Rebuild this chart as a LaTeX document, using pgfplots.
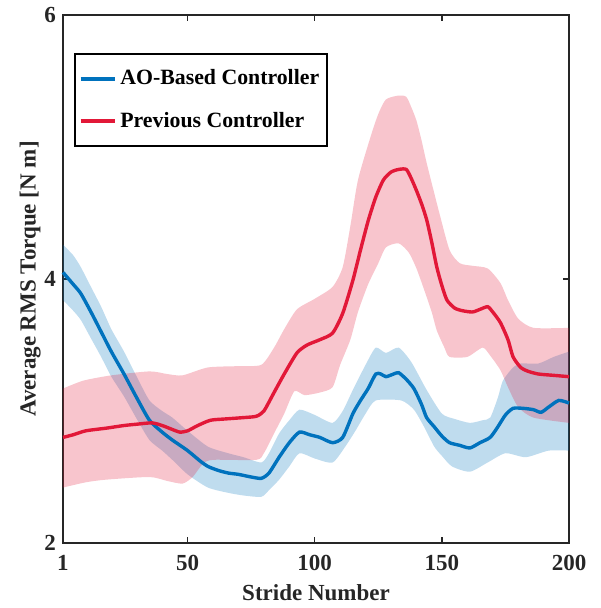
\documentclass[border=0pt]{standalone}
\usepackage{fontspec}
\setmainfont{Liberation Serif}
\usepackage{pgfplots}
\pgfplotsset{compat=1.18}
\usepgfplotslibrary{fillbetween}

\definecolor{aoblue}{RGB}{0,114,189}
\definecolor{prevred}{RGB}{226,24,56}
\definecolor{axgray}{RGB}{38,38,38}

\begin{document}
\begin{tikzpicture}
\begin{axis}[
  scale only axis,
  width=253pt, height=264pt,
  xmin=1, xmax=200, ymin=2, ymax=6,
  xtick={1,50,100,150,200},
  ytick={2,4,6},
  tick align=inside,
  major tick length=3pt,
  axis line style={axgray, line width=0.7pt},
  every tick/.style={axgray, line width=0.7pt},
  /pgf/number format/assume math mode=true,
  tick label style={font=\fontsize{11.5}{13}\selectfont\bfseries, text=axgray},
  xticklabel style={yshift=-2.5pt},
  label style={font=\fontsize{11.5}{13}\selectfont\bfseries, text=axgray},
  xlabel={Stride Number},
  ylabel={Average RMS Torque [N m]},
  ylabel style={yshift=-5pt},
  legend style={at={(0.0217,0.928)}, anchor=north west, draw=black, line width=0.8pt,
    font=\fontsize{10.9}{13}\selectfont\bfseries, inner xsep=2pt, inner ysep=6pt,
    row sep=8pt, cells={anchor=west}},
  legend image code/.code={\draw[#1, line width=1.8pt] (0pt,0pt) -- (17pt,0pt);},
  clip=false,
]
% bounding frame matching reference proportions
\path (rel axis cs:-0.1245,-0.1231) rectangle (rel axis cs:1.0632,1.0284);

% --- AO-Based Controller band ---
\addplot[draw=none, forget plot, smooth, tension=0.4, name path=bu] coordinates {
(1,4.26) (5,4.18) (8,4.09) (12,3.94) (16,3.79) (20,3.62) (25,3.45) (30,3.26)
(35,3.08) (40,3.00) (44,2.95) (50,2.85) (58,2.73) (66,2.68) (72,2.65) (79,2.61)
(82,2.68) (86,2.83) (90,2.93) (94,3.01) (100,2.97) (107,2.91) (111,3.00) (115,3.16)
(120,3.35) (124,3.48) (128,3.44) (133,3.48) (138,3.37) (144,3.16) (150,2.98) (155,2.94)
(161,2.91) (166,2.93) (169,2.95) (172,3.10) (174,3.23) (178,3.33) (181,3.36) (188,3.36)
(194,3.41) (200,3.45)
};
\addplot[draw=none, forget plot, smooth, tension=0.4, name path=bl] coordinates {
(1,3.84) (5,3.76) (8,3.69) (12,3.55) (16,3.41) (20,3.26) (25,3.11) (30,2.94)
(35,2.78) (40,2.70) (44,2.63) (50,2.52) (58,2.42) (66,2.38) (72,2.36) (79,2.35)
(82,2.40) (86,2.48) (90,2.58) (94,2.68) (100,2.64) (107,2.61) (112,2.73) (116,2.85)
(120,2.98) (124,3.08) (134,3.08) (139,3.01) (143,2.88) (147,2.73) (150,2.66) (154,2.58)
(161,2.54) (168,2.61) (175,2.68) (183,2.65) (192,2.70) (200,2.70)
};
\addplot[aoblue, fill opacity=0.25, draw=none, forget plot] fill between[of=bu and bl];

\addplot[aoblue, line width=1.7pt, smooth, tension=0.4] coordinates {
(1,4.05) (5,3.96) (8,3.89) (12,3.75) (16,3.60) (20,3.45) (25,3.28) (30,3.10)
(35,2.93) (40,2.84) (44,2.78) (50,2.70) (55,2.62) (58,2.58) (62,2.55) (66,2.53)
(70,2.52) (75,2.50) (79,2.49) (82,2.53) (86,2.65) (90,2.76) (94,2.84) (98,2.82)
(102,2.80) (107,2.76) (111,2.80) (115,2.98) (118,3.08) (121,3.17) (124,3.28) (126,3.28)
(128,3.26) (131,3.28) (133,3.29) (136,3.24) (139,3.17) (142,3.05) (144,2.95) (147,2.88)
(150,2.81) (153,2.76) (157,2.74) (161,2.72) (165,2.76) (169,2.80) (172,2.88) (175,2.97)
(178,3.02) (182,3.02) (186,3.01) (189,2.99) (192,3.03) (196,3.08) (200,3.06)
};
\addlegendentry{AO-Based Controller}

% --- Previous Controller band ---
\addplot[draw=none, forget plot, smooth, tension=0.4, name path=ru] coordinates {
(1,3.17) (9,3.23) (20,3.27) (35,3.30) (42,3.28) (48,3.27) (58,3.33) (70,3.34)
(79,3.35) (84,3.48) (88,3.62) (93,3.77) (100,3.85) (107,3.94) (111,4.09) (114,4.40)
(117,4.75) (122,5.08) (125,5.25) (128,5.36) (133,5.39) (136,5.38) (138,5.30) (140,5.20)
(142,5.05) (144,4.88) (147,4.65) (149,4.50) (153,4.22) (157,4.12) (162,4.10) (168,4.08)
(173,3.97) (176,3.84) (180,3.70) (186,3.63) (200,3.63)
};
\addplot[draw=none, forget plot, smooth, tension=0.4, name path=rl] coordinates {
(1,2.42) (10,2.46) (18,2.48) (35,2.50) (42,2.47) (48,2.45) (52,2.50) (56,2.60)
(60,2.63) (77,2.63) (80,2.68) (84,2.83) (88,2.98) (92,3.15) (96,3.12) (102,3.14)
(107,3.18) (110,3.35) (114,3.54) (117,3.75) (121,3.96) (125,4.12) (128,4.24) (133,4.27)
(137,4.20) (140,4.08) (143,3.92) (146,3.75) (148,3.61) (151,3.48) (153,3.41) (160,3.41)
(166,3.48) (169,3.42) (173,3.31) (176,3.18) (180,3.03) (186,2.95) (200,2.91)
};
\addplot[prevred, fill opacity=0.25, draw=none, forget plot] fill between[of=ru and rl];

\addplot[prevred, line width=1.7pt, smooth, tension=0.4] coordinates {
(1,2.80) (5,2.82) (10,2.85) (18,2.87) (25,2.89) (30,2.90) (36,2.91) (40,2.89)
(44,2.86) (47,2.84) (50,2.85) (54,2.89) (59,2.93) (65,2.94) (72,2.95) (77,2.96)
(80,3.00) (84,3.14) (88,3.28) (93,3.44) (97,3.50) (102,3.54) (107,3.59) (111,3.74)
(115,3.99) (118,4.22) (121,4.44) (124,4.62) (127,4.75) (130,4.81) (133,4.83) (136,4.83)
(138,4.76) (140,4.67) (142,4.57) (144,4.45) (146,4.28) (148,4.09) (150,3.95) (152,3.84)
(155,3.78) (158,3.76) (162,3.75) (165,3.77) (168,3.79) (170,3.75) (173,3.67) (176,3.54)
(178,3.41) (181,3.33) (184,3.30) (188,3.28) (194,3.27) (200,3.26)
};
\addlegendentry{Previous Controller}
\end{axis}
\end{tikzpicture}
\end{document}
